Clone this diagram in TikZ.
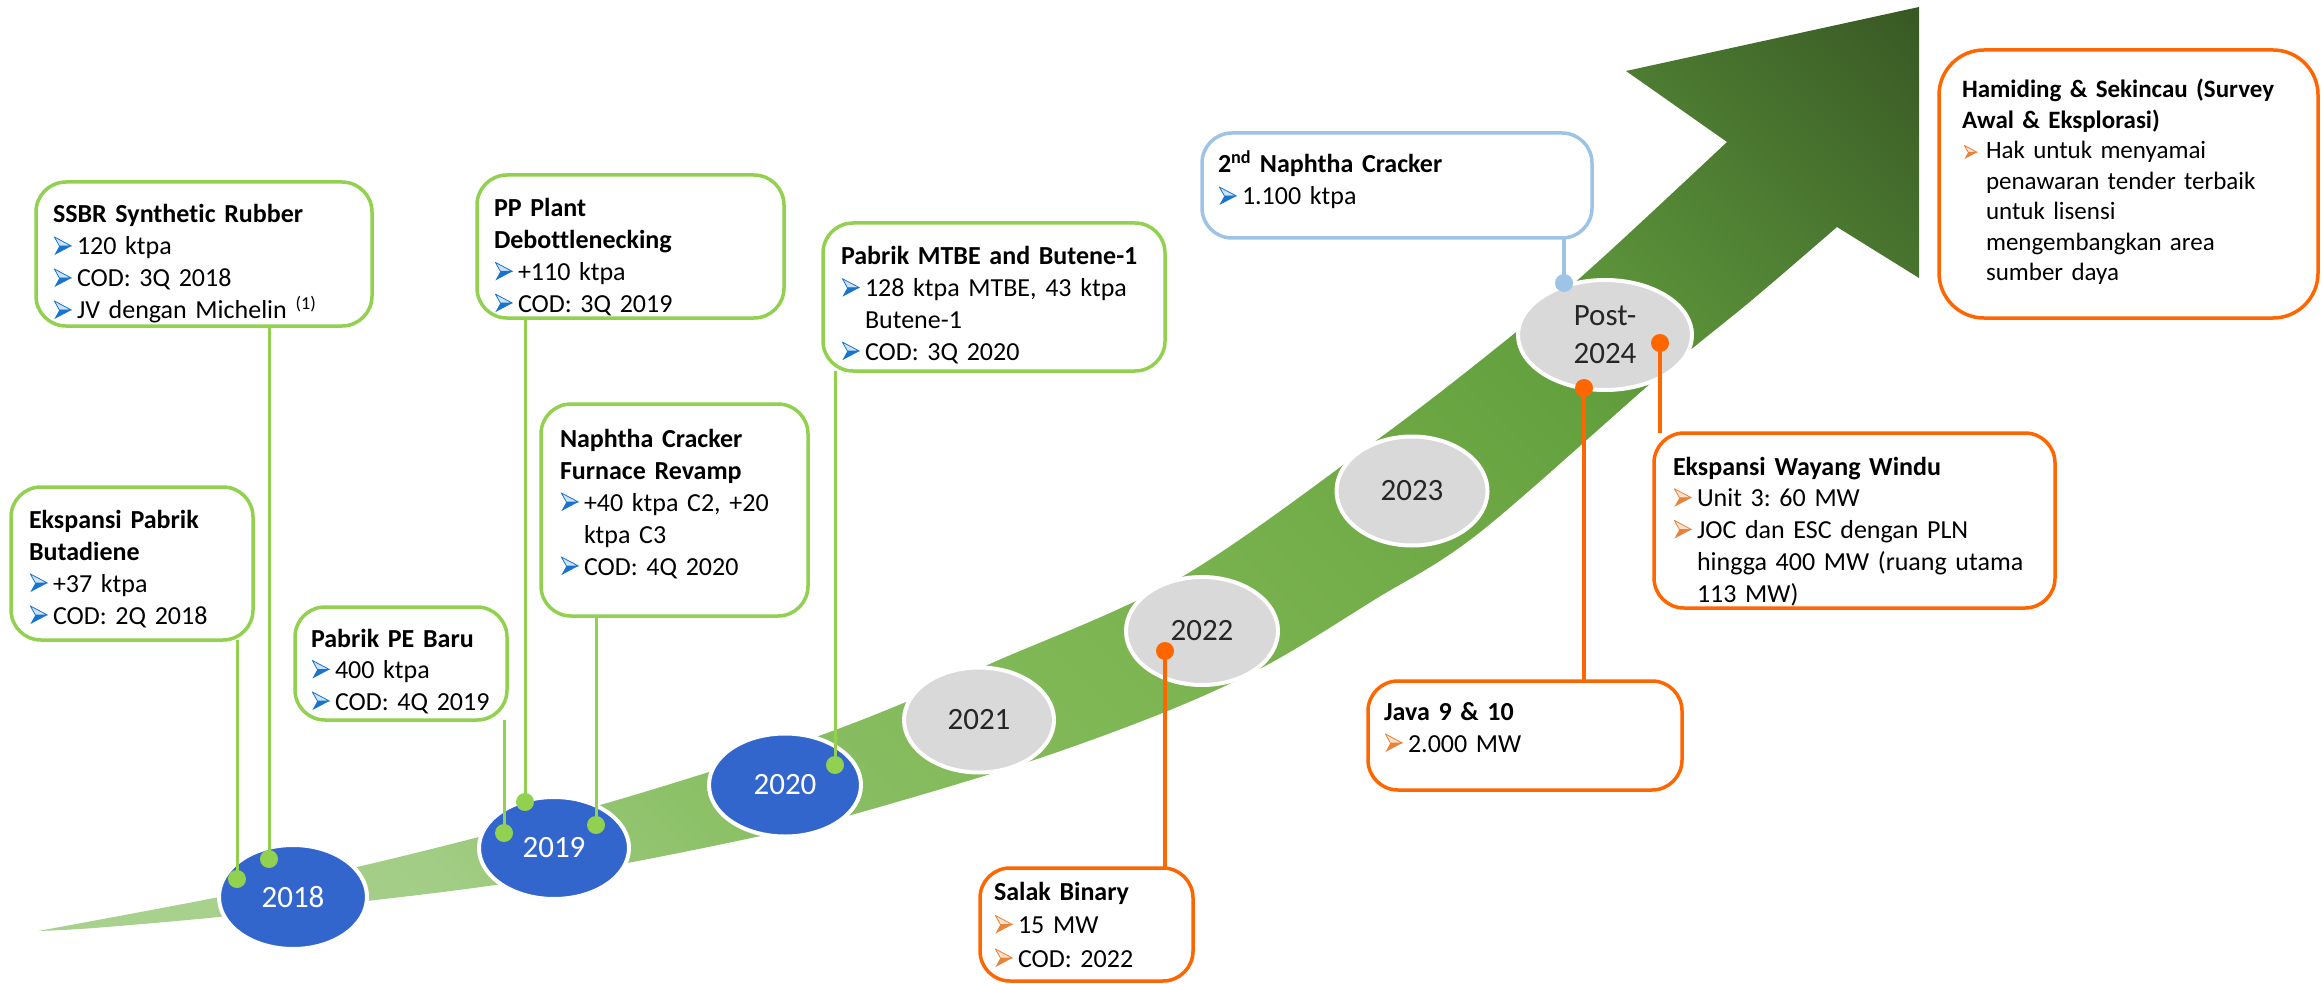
\documentclass[tikz,border=0pt]{standalone}
\usepackage{fontspec}
\setmainfont[Ligatures=NoCommon]{Carlito}
\usetikzlibrary{shapes.geometric}
\definecolor{grn}{HTML}{92D050}
\definecolor{org}{HTML}{FF6600}
\definecolor{lblue}{HTML}{9DC3E6}
\definecolor{yblue}{HTML}{3366CC}
\definecolor{ygray}{HTML}{D9D9D9}
\definecolor{ydark}{HTML}{262626}
\definecolor{bulb}{HTML}{1874CD}
\definecolor{bulbl}{HTML}{CFE2F5}
\definecolor{bulo}{HTML}{E8833A}
\definecolor{bulol}{HTML}{FBE0CB}
\definecolor{c1}{HTML}{A9D18E}
\definecolor{c2}{HTML}{A2CD85}
\definecolor{c3}{HTML}{8DC168}
\definecolor{c4}{HTML}{7DB653}
\definecolor{c5}{HTML}{74AE4A}
\definecolor{c6}{HTML}{64A03E}
\definecolor{c7}{HTML}{4F7F33}
\definecolor{c8}{HTML}{375623}
\pgfdeclareverticalshading{bandshade}{100bp}{color(0bp)=(c1); color(20bp)=(c1); color(26bp)=(c2); color(34bp)=(c3); color(48bp)=(c4); color(57bp)=(c5); color(67bp)=(c6); color(76bp)=(c7); color(86bp)=(c8); color(100bp)=(c8)}
\pgfdeclarelayer{bandlayer}
\pgfdeclarelayer{yearlayer}
\pgfdeclarelayer{linklayer}
\pgfsetlayers{bandlayer,yearlayer,linklayer,main}
\newsavebox\bbulbox
\newsavebox\obulbox
\newsavebox\sobulbox
\newcommand\makebul[4]{%
  \sbox#1{\begin{pgfpicture}%
    \pgfsetbaseline{0pt}%
    \pgfsetlinewidth{0.8pt}\pgfsetroundjoin
    \pgfsetstrokecolor{#2}\pgfsetfillcolor{#3}%
    \pgfpathmoveto{\pgfpoint{0pt}{#4*18pt}}%
    \pgfpathlineto{\pgfpoint{#4*17pt}{#4*9pt}}%
    \pgfpathlineto{\pgfpoint{#4*5pt}{#4*9pt}}%
    \pgfpathclose
    \pgfusepath{fill,stroke}%
    \pgfsetfillcolor{#2}%
    \pgfpathmoveto{\pgfpoint{0pt}{0pt}}%
    \pgfpathlineto{\pgfpoint{#4*17pt}{#4*9pt}}%
    \pgfpathlineto{\pgfpoint{#4*5pt}{#4*9pt}}%
    \pgfpathclose
    \pgfusepath{fill}%
  \end{pgfpicture}}}
\AtBeginDocument{%
  \frenchspacing
  \makebul{\bbulbox}{bulb}{bulbl}{1}%
  \makebul{\obulbox}{bulo}{bulol}{1}%
  \makebul{\sobulbox}{bulo}{bulol}{0.75}%
}
\newcommand\bblt{\makebox[24pt][l]{\hspace{1pt}\usebox\bbulbox}}
\newcommand\oblt{\makebox[24pt][l]{\hspace{1pt}\usebox\obulbox}}
\newcommand\soblt{\makebox[24pt][l]{\hspace{2pt}\usebox\sobulbox}}
\newcommand\indt{\hspace*{24pt}}
\begin{document}
\begin{tikzpicture}[x=1pt,y=-1pt,
  boxbase/.style={rectangle, anchor=north west, fill=white, line width=3.5pt, rounded corners=30pt, inner sep=0pt, outer sep=0pt},
  gbox/.style={boxbase, draw=grn},
  obox/.style={boxbase, draw=org},
  lbbox/.style={boxbase, draw=lblue},
  txt/.style={anchor=base west, inner sep=0pt, outer sep=0pt, text width=420pt, align=left, font=\fontsize{26}{32}\selectfont\frenchspacing},
  yr/.style={ellipse, draw=white, line width=4pt, inner sep=0pt, outer sep=0pt, font=\fontsize{31}{38}\selectfont, align=center},
  yb/.style={yr, fill=yblue, text=white},
  yg/.style={yr, fill=ygray, text=ydark},
  dotg/.style={circle, fill=grn, inner sep=0pt, minimum size=18pt},
  doto/.style={circle, fill=org, inner sep=0pt, minimum size=18pt},
  dotb/.style={circle, fill=lblue, inner sep=0pt, minimum size=18pt},
  gline/.style={draw=grn, line width=3pt},
  oline/.style={draw=org, line width=3.5pt},
  bline/.style={draw=lblue, line width=3.5pt}
]
\useasboundingbox (0,0) rectangle (2323,984);

% ---------- growth arrow ----------
\begin{pgfonlayer}{bandlayer}
\shade[shading=bandshade, shading angle=-45]
  plot[smooth, tension=0.55] coordinates {(38,931) (219,897) (357,867) (479,837) (600,805) (709,772) (816,737) (906,702) (992,663) (1180,578) (1377,440) (1515,333) (1600,260) (1727,142)}
  -- (1626,71) -- (1919,7) -- (1919,278) -- (1837,227)
  -- plot[smooth, tension=0.55] coordinates {(1837,227) (1752,300) (1658,377) (1479,533) (1374,600) (1267,665) (1165,712) (1025,763) (851,815) (756,837) (627,863) (495,885) (367,901) (219,917) (94,928) (38,931)}
  -- cycle;
\end{pgfonlayer}

% ---------- years ----------
\begin{pgfonlayer}{yearlayer}
\node[yb, minimum width=148pt, minimum height=104pt] (y18) at (293,897) {2018};
\node[yb, minimum width=150pt, minimum height=102pt] (y19) at (554,848) {2019};
\node[yb, minimum width=152pt, minimum height=103pt] (y20) at (785,785) {2020};
\node[yg, minimum width=150pt, minimum height=105pt] (y21) at (979,720) {2021};
\node[yg, minimum width=152pt, minimum height=108pt] (y22) at (1202,631) {2022};
\node[yg, minimum width=151pt, minimum height=109pt] (y23) at (1412,491) {2023};
\node[yg, minimum width=174pt, minimum height=110pt] (y24) at (1605,335) {Post-\\2024};
\end{pgfonlayer}

% ---------- dots ----------
\node[dotg] (d1) at (237,879) {};
\node[dotg] (d2) at (269,859) {};
\node[dotg] (d3) at (504,833) {};
\node[dotg] (d4) at (525,802) {};
\node[dotg] (d5) at (596,825) {};
\node[dotg] (d6) at (835,765) {};
\node[doto] (d7) at (1165,651) {};
\node[doto] (d8) at (1584,388) {};
\node[doto] (d9) at (1660,343) {};
\node[dotb] (d10) at (1564,283) {};

% ---------- boxes ----------
\node[gbox, minimum width=336pt, minimum height=144pt] (bSS) at (36,182) {};
\node[gbox, minimum width=242pt, minimum height=153pt] (bBu) at (11,487) {};
\node[gbox, minimum width=212pt, minimum height=113pt] (bPE) at (295,607) {};
\node[gbox, minimum width=307pt, minimum height=143pt] (bPP) at (477,175) {};
\node[gbox, minimum width=267pt, minimum height=212pt] (bNF) at (541,404) {};
\node[gbox, minimum width=342pt, minimum height=148pt] (bMT) at (823,223) {};
\node[lbbox, minimum width=390pt, minimum height=105pt] (bN2) at (1202,133) {};
\node[obox, minimum width=379pt, minimum height=268pt, rounded corners=45pt] (bHa) at (1939,50) {};
\node[obox, minimum width=401pt, minimum height=175pt] (bWW) at (1654,433) {};
\node[obox, minimum width=314pt, minimum height=109pt] (bJa) at (1368,681) {};
\node[obox, minimum width=213pt, minimum height=113pt] (bSa) at (980,868) {};

% ---------- connectors ----------
\begin{pgfonlayer}{linklayer}
\draw[gline] (d1.center) -- (d1.center |- bBu.south);
\draw[gline] (d2.center) -- (d2.center |- bSS.south);
\draw[gline] (d3.center) -- (d3.center |- bPE.south);
\draw[gline] (d4.center) -- (d4.center |- bPP.south);
\draw[gline] (d5.center) -- (d5.center |- bNF.south);
\draw[gline] (d6.center) -- (d6.center |- bMT.south);
\draw[oline] (d7.center) -- (d7.center |- bSa.north);
\draw[oline] (d8.center) -- (d8.center |- bJa.north);
\draw[oline] (d9.center) -- (d9.center |- bWW.north);
\draw[bline] (d10.center) -- (d10.center |- bN2.south);
\end{pgfonlayer}

% ---------- texts ----------
\node[txt] (tSS) at (53,223) {\textbf{SSBR Synthetic Rubber}\\ \bblt 120 ktpa\\ \bblt COD: 3Q 2018\\ \bblt JV dengan Michelin \textsuperscript{(1)}};
\node[txt] (tBu) at (29,528) {\textbf{Ekspansi Pabrik}\\ \textbf{Butadiene}\\ \bblt +37 ktpa\\ \bblt COD: 2Q 2018};
\node[txt, font=\fontsize{26}{31.5}\selectfont\frenchspacing] (tPE) at (311,647) {\textbf{Pabrik PE Baru}\\ \bblt 400 ktpa\\ \bblt COD: 4Q 2019};
\node[txt, font=\fontsize{26}{31.7}\selectfont\frenchspacing] (tPP) at (494,217) {\textbf{PP Plant}\\ \textbf{Debottlenecking}\\ \bblt +110 ktpa\\ \bblt COD: 3Q 2019};
\node[txt] (tNF) at (560,447) {\textbf{Naphtha Cracker}\\ \textbf{Furnace Revamp}\\ \bblt +40 ktpa C2, +20\\ \indt ktpa C3\\ \bblt COD: 4Q 2020};
\node[txt, font=\fontsize{26}{31.7}\selectfont\frenchspacing] (tMT) at (841,265) {\textbf{Pabrik MTBE and Butene-1}\\ \bblt 128 ktpa MTBE, 43 ktpa\\ \indt Butene-1\\ \bblt COD: 3Q 2020};
\node[txt] (tN2) at (1218,173) {\textbf{2\textsuperscript{nd} Naphtha Cracker}\\ \bblt 1.100 ktpa};
\node[txt, font=\fontsize{25}{30.5}\selectfont\frenchspacing] (tHa) at (1962,98) {\textbf{Hamiding \& Sekincau (Survey}\\ \textbf{Awal \& Eksplorasi)}\\ \soblt Hak untuk menyamai\\ \indt penawaran tender terbaik\\ \indt untuk lisensi\\ \indt mengembangkan area\\ \indt sumber daya};
\node[txt, font=\fontsize{26}{31.75}\selectfont\frenchspacing] (tWW) at (1673,475) {\textbf{Ekspansi Wayang Windu}\\ \oblt Unit 3: 60 MW\\ \oblt JOC dan ESC dengan PLN\\ \indt hingga 400 MW (ruang utama\\ \indt 113 MW)};
\node[txt] (tJa) at (1384,720) {\textbf{Java 9 \& 10}\\ \oblt 2.000 MW};
\node[txt, font=\fontsize{26}{33.5}\selectfont\frenchspacing] (tSa) at (994,900) {\textbf{Salak Binary}\\ \oblt 15 MW\\ \oblt COD: 2022};
\end{tikzpicture}
\end{document}
